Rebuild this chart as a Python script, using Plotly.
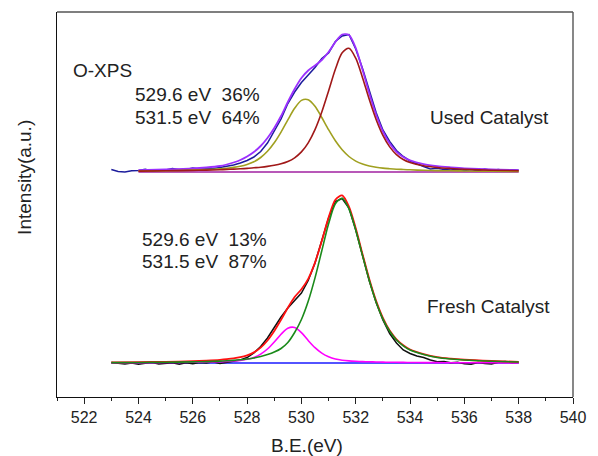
import plotly.graph_objects as go

# ---------------- data (intensity in arbitrary units, above each spectrum's baseline) ----------------
USED_OFFSET = 225
FRESH_OFFSET = 34

FIT_E = [524, 525, 526, 526.5, 527, 527.25, 527.5, 527.75, 528, 528.25, 528.5, 528.75,
         529, 529.25, 529.5, 529.75, 530, 530.25, 530.5, 530.75, 531, 531.25, 531.5, 531.75,
         532, 532.25, 532.5, 532.75, 533, 533.25, 533.5, 533.75, 534, 534.5, 535, 535.5,
         536, 537, 538]
FRESH_FIT_E = [523] + FIT_E

# Used catalyst components
used_peak_5296 = [0.9, 1.3, 1.9, 2.4, 3.2, 3.8, 4.6, 5.7, 7.5, 10.2, 14.5, 20.7,
                  29.2, 39.9, 52.1, 63.7, 71.6, 72.3, 65.7, 54.5, 42.3, 31.2, 22.2, 15.5,
                  10.9, 7.9, 6.0, 4.8, 3.9, 3.3, 2.8, 2.5, 2.2, 1.7, 1.4, 1.2, 1.0, 0.7, 0.6]
used_peak_5315 = [0.9, 1.2, 1.6, 1.9, 2.3, 2.6, 2.9, 3.2, 3.6, 4.2, 4.8, 5.6,
                  6.7, 8.2, 10.5, 14.2, 20.1, 29.2, 42.4, 60.0, 81.1, 102.8, 119.2, 123.7,
                  113.8, 94.3, 72.4, 52.5, 36.6, 25.1, 17.4, 12.5, 9.5, 6.2, 4.5, 3.5, 2.7, 1.8, 1.3]
used_envelope = [1.8, 2.5, 3.5, 4.5, 6.0, 7.5, 9.5, 12.0, 15.5, 20.0, 26.0, 34.0,
                 44.0, 56.0, 70.0, 83.0, 94.0, 101.5, 106.5, 112.0, 120.0, 130.0, 137.5, 137.0,
                 124.0, 102.2, 78.4, 57.3, 40.5, 28.4, 20.2, 15.0, 11.7, 7.9, 5.9, 4.7, 3.7, 2.5, 1.9]

# Fresh catalyst components
fresh_peak_5296 = [0.2, 0.3, 0.5, 0.7, 1.0, 1.3, 1.6, 2.0, 2.6, 3.7, 5.6, 8.9, 14.0,
                   21.0, 28.8, 34.8, 35.5, 30.3, 22.5, 15.3, 9.8, 6.2, 4.0, 2.8, 2.1,
                   1.7, 1.4, 1.2, 1.0, 0.9, 0.7, 0.7, 0.6, 0.5, 0.4, 0.35, 0.3, 0.25, 0.2, 0.15]
fresh_peak_5315 = [0.4, 0.5, 0.7, 1.1, 1.4, 1.9, 2.2, 2.6, 3.2, 4.0, 5.0, 6.5, 8.5,
                   11.0, 14.5, 20.5, 30.5, 43.5, 61.7, 85.1, 112.2, 139.2, 159.3, 164.8, 154.2,
                   133.0, 107.4, 82.5, 61.1, 44.2, 31.7, 23.0, 17.2, 13.0, 8.5, 5.5, 4.0, 3.0, 1.8, 1.0]
fresh_envelope = [0.6, 0.8, 1.2, 1.8, 2.4, 3.2, 3.8, 4.6, 5.8, 7.7, 10.6, 15.4, 22.5,
                  32.0, 43.3, 55.3, 66.0, 73.8, 84.2, 100.4, 122.0, 145.4, 163.3, 167.6, 156.3,
                  134.7, 108.8, 83.7, 62.1, 45.1, 32.4, 23.7, 17.8, 13.5, 8.9, 5.85, 4.3, 3.25, 2.0, 1.15]

# Raw spectra
RAW_E = [523 + 0.25 * i for i in range(61)]
used_raw = [2.5, 0.5, 0.0, 1.2, 1.5, 2.8, 1.0, 1.6, 2.0, 3.4, 2.2, 2.6, 4.0, 3.1, 3.0, 3.6,
            4.5, 5.5, 7.0, 9.0, 11.5, 15.0, 20.5, 29.0, 40.5, 53.0, 68.5, 80.0, 89.5, 97.0,
            104.5, 113.5, 119.0, 130.5, 136.0, 137.5, 123.0, 103.5, 80.5, 59.5, 42.0, 30.5,
            21.5, 15.5, 11.0, 8.0, 5.5, 3.0, 3.8, 2.6, 2.0, 2.8, 1.5, 2.4, 1.2, 2.9, 1.6, 2.6,
            1.4, 2.3, 1.8]
fresh_raw = [0.5, -0.5, -1.0, 0.0, -1.2, -0.3, 0.6, -1.0, -0.4, 0.3, -1.2, 0.2, -0.8, 0.4,
             0.0, 1.2, -0.5, 0.5, 1.5, 3.0, 5.5, 10.0, 16.5, 25.0, 35.5, 46.0, 55.0, 62.0,
             70.0, 82.5, 100.0, 122.5, 145.0, 161.5, 164.5, 155.0, 133.0, 107.5, 82.0, 60.5,
             43.0, 29.5, 20.0, 13.0, 9.5, 7.0, 5.5, 3.0, 1.2, 1.5, 0.2, 0.8, -0.8, -1.2, 0.5,
             -0.5, -1.0, 0.8, 1.5, 0.3, 0.6]

USED_BASE_E = [524, 538]
FRESH_BASE_E = [523, 538]
base_zero = [0, 0]

X_TICKS = [522, 524, 526, 528, 530, 532, 534, 536, 538, 540]

# ---------------- figure ----------------
fig = go.Figure()


def add(x, y, offset, color, width=1.6, shape="spline"):
    fig.add_trace(go.Scatter(
        x=x, y=[v + offset for v in y], mode="lines",
        line=dict(color=color, width=width, shape=shape, smoothing=0.8),
        hoverinfo="skip", showlegend=False))


# Used catalyst
add(USED_BASE_E, base_zero, USED_OFFSET, "#a020a0", 1.6, "linear")
add(RAW_E, used_raw, USED_OFFSET, "#1c1c9c", 1.5, "linear")
add(FIT_E, used_envelope, USED_OFFSET, "#9b30ff", 1.8)
add(FIT_E, used_peak_5296, USED_OFFSET, "#a0a020", 1.6)
add(FIT_E, used_peak_5315, USED_OFFSET, "#a01818", 1.6)

# Fresh catalyst
add(FRESH_BASE_E, base_zero, FRESH_OFFSET, "#1a1aff", 1.6, "linear")
add(RAW_E, fresh_raw, FRESH_OFFSET, "#101010", 1.5, "linear")
add(FRESH_FIT_E, fresh_peak_5296, FRESH_OFFSET, "#ff00ff", 1.6)
add(FRESH_FIT_E, fresh_envelope, FRESH_OFFSET, "#ff1010", 1.8)
add(FRESH_FIT_E, fresh_peak_5315, FRESH_OFFSET, "#1a8a1a", 1.6)

FONT = "Liberation Sans, Arial, sans-serif"
TXT = "#222222"
NB = "\u00a0"


def note(text, x, y, size=19, **kw):
    fig.add_annotation(text=text, x=x, y=y, xref="paper", yref="paper",
                       showarrow=False, font=dict(family=FONT, size=size, color=TXT), **kw)


note("O-XPS", 0.0266, 0.847, xanchor="left", yanchor="middle")
note("529.6 eV" + NB * 2 + "36%", 0.148, 0.787, xanchor="left", yanchor="middle")
note("531.5 eV" + NB * 2 + "64%", 0.148, 0.727, xanchor="left", yanchor="middle")
note("Used Catalyst", 0.719, 0.725, xanchor="left", yanchor="middle")
note("529.6 eV" + NB * 2 + "13%", 0.1613, 0.410, xanchor="left", yanchor="middle")
note("531.5 eV" + NB * 2 + "87%", 0.1613, 0.351, xanchor="left", yanchor="middle")
note("Fresh Catalyst", 0.7135, 0.234, xanchor="left", yanchor="middle")
note("B.E.(eV)", 0.4848, -0.1247, xanchor="center", yanchor="middle")
note("Intensity(a.u.)", -0.0645, 0.571, xanchor="center", yanchor="middle", textangle=-90)

fig.update_layout(
    width=598, height=456,
    margin=dict(l=57, r=14, t=12, b=59),
    paper_bgcolor="white", plot_bgcolor="white",
    font=dict(family=FONT, color=TXT),
    xaxis=dict(range=[521, 540], tickvals=X_TICKS, ticks="outside", ticklen=6, tickwidth=1.2,
               tickcolor="#222", showline=True, linecolor="#111", linewidth=1.4,
               showgrid=False, zeroline=False, tickfont=dict(size=16, family=FONT, color=TXT),
               minor=dict(dtick=1, tick0=521, ticks="outside", ticklen=3, tickwidth=1.1, tickcolor="#222")),
    yaxis=dict(range=[0, 385], showticklabels=False, ticks="", showline=True, linecolor="#111",
               linewidth=1.4, showgrid=False, zeroline=False),
    shapes=[
        dict(type="line", xref="paper", yref="paper", x0=0, x1=1, y0=1, y1=1,
             line=dict(color="#555", width=1.4)),
        dict(type="line", xref="paper", yref="paper", x0=1, x1=1, y0=0, y1=1,
             line=dict(color="#555", width=1.4)),
    ],
)

fig.write_html("out.html")
